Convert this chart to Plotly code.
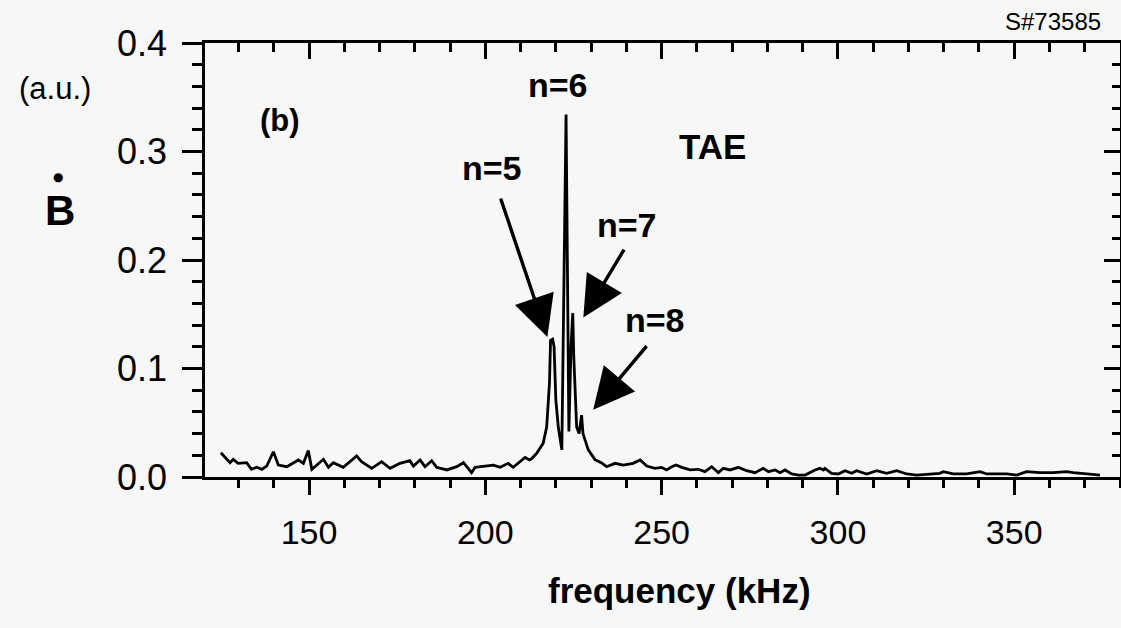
import plotly.graph_objects as go

# ---- data ----
freq_khz = [
    125.0, 126.7, 127.6, 128.5, 129.9, 132.3, 133.7, 135.2, 136.6, 138.0,
    139.9, 141.3, 143.7, 147.0, 148.4, 149.8, 150.8, 154.1, 155.5, 156.9,
    159.7, 163.5, 164.9, 167.8, 170.6, 173.0, 175.8, 178.6, 179.6, 181.5,
    182.9, 184.8, 186.2, 189.1, 191.9, 193.8, 196.1, 197.1, 200.4, 202.3,
    204.2, 206.5, 207.9, 211.3, 212.5,
    213.2, 214.6, 216.4, 217.4, 218.2, 218.5, 219.1, 219.5, 220.0, 220.7,
    221.7, 222.9, 223.7, 224.3, 224.8, 225.1, 225.4, 225.9, 226.6, 227.3,
    227.7, 229.2, 231.1, 233.0, 234.4, 236.8, 239.1, 241.9,
    243.9, 245.8, 248.1, 250.0, 251.4, 252.9, 254.1, 255.7, 258.1, 260.4,
    262.3, 264.2, 266.1, 267.5, 269.4, 271.8, 274.1, 276.5, 278.8, 280.3,
    282.2, 283.6, 285.0, 286.9, 288.8, 290.7, 293.5, 294.9, 295.9, 296.3,
    298.2, 300.1, 302.0, 303.9, 305.3, 308.2, 311.0, 313.8, 316.7, 319.5,
    322.3, 326.1, 328.9, 329.9, 332.7, 336.5, 340.3, 342.2, 347.9, 350.7,
    353.5, 357.3, 361.1, 364.9, 366.7, 370.6, 374.3,
]
bdot_amp = [
    0.0224, 0.0157, 0.0132, 0.0163, 0.0126, 0.0132, 0.0071, 0.0090, 0.0071, 0.0101,
    0.0233, 0.0110, 0.0095, 0.0157, 0.0126, 0.0243, 0.0071, 0.0163, 0.0090, 0.0132,
    0.0090, 0.0194, 0.0141, 0.0080, 0.0141, 0.0080, 0.0126, 0.0150, 0.0101, 0.0157,
    0.0095, 0.0150, 0.0090, 0.0065, 0.0095, 0.0132, 0.0040, 0.0090, 0.0101, 0.0110,
    0.0090, 0.0126, 0.0090, 0.0180, 0.0157,
    0.0170, 0.0220, 0.0310, 0.0460, 0.0870, 0.1260, 0.1270, 0.1200, 0.0710, 0.0460,
    0.0250, 0.3340, 0.0420, 0.1200, 0.1510, 0.1100, 0.0870, 0.0460, 0.0400, 0.0570,
    0.0400, 0.0250, 0.0160, 0.0130, 0.0095, 0.0126, 0.0110, 0.0126,
    0.0157, 0.0101, 0.0080, 0.0089, 0.0065, 0.0095, 0.0111, 0.0089, 0.0065, 0.0071,
    0.0049, 0.0095, 0.0040, 0.0080, 0.0065, 0.0089, 0.0058, 0.0040, 0.0080, 0.0049,
    0.0065, 0.0040, 0.0065, 0.0028, 0.0018, 0.0018, 0.0065, 0.0080, 0.0065, 0.0080,
    0.0034, 0.0028, 0.0058, 0.0034, 0.0058, 0.0028, 0.0058, 0.0034, 0.0058, 0.0028,
    0.0018, 0.0028, 0.0034, 0.0049, 0.0028, 0.0028, 0.0049, 0.0028, 0.0028, 0.0018,
    0.0049, 0.0040, 0.0040, 0.0049, 0.0040, 0.0028, 0.0018,
]

x_range = [120.5, 380]
y_range = [0, 0.4]
x_tick_step = 50
x_minor_step = 10
y_tick_step = 0.1
y_minor_step = 0.02

mode_labels = ["n=5", "n=6", "n=7", "n=8"]
mode_label_pos = [(201.8, 0.285), (220.7, 0.361), (240.3, 0.232), (248.2, 0.145)]
# arrows: (tip_x, tip_y, tail_x, tail_y)
mode_arrows = [
    (217.6, 0.129, 204.2, 0.258),
    (227.8, 0.147, 239.6, 0.211),
    (230.6, 0.062, 246.1, 0.122),
]

FONT = "Liberation Sans, Arial, Helvetica, sans-serif"
BG = "#f7f7f7"
INK = "black"

fig = go.Figure()
fig.add_trace(go.Scatter(
    x=freq_khz, y=bdot_amp, mode="lines",
    line=dict(color=INK, width=2.8), showlegend=False, hoverinfo="skip",
))
# invisible trace to anchor mirrored axes (top/right, inward ticks)
fig.add_trace(go.Scatter(x=[None], y=[None], xaxis="x2", yaxis="y2",
                         showlegend=False, hoverinfo="skip"))

annotations = []
for txt, (ax_, ay_) in zip(mode_labels, mode_label_pos):
    annotations.append(dict(x=ax_, y=ay_, xref="x", yref="y", text=f"<b>{txt}</b>",
                            xanchor="center", yanchor="middle",
                            showarrow=False, font=dict(family=FONT, size=34, color=INK)))
for tx, ty, sx, sy in mode_arrows:
    annotations.append(dict(x=tx, y=ty, ax=sx, ay=sy, xref="x", yref="y",
                            axref="x", ayref="y", text="", showarrow=True,
                            arrowhead=2, arrowsize=2.4, arrowwidth=3.4,
                            arrowcolor=INK, standoff=0))
annotations += [
    dict(x=264.3, y=0.305, xref="x", yref="y", text="<b>TAE</b>", showarrow=False,
         xanchor="center", yanchor="middle",
         font=dict(family=FONT, size=35, color=INK)),
    dict(x=141.8, y=0.329, xref="x", yref="y", text="<b>(b)</b>", showarrow=False,
         xanchor="center", yanchor="middle",
         font=dict(family=FONT, size=31, color=INK)),
    dict(x=-0.164, y=0.896, xref="paper", yref="paper", text="(a.u.)", showarrow=False,
         xanchor="center", yanchor="middle",
         font=dict(family=FONT, size=31, color=INK)),
    dict(x=-0.158, y=0.613, xref="paper", yref="paper", text="<b>B</b>", showarrow=False,
         xanchor="center", yanchor="middle",
         font=dict(family=FONT, size=42, color=INK)),
    dict(x=-0.161, y=0.692, xref="paper", yref="paper", text="●", showarrow=False,
         xanchor="center", yanchor="middle",
         font=dict(family="DejaVu Sans", size=12, color=INK)),
    dict(x=0.981, y=1.049, xref="paper", yref="paper", text="S#73585", showarrow=False,
         xanchor="right", yanchor="middle", font=dict(family=FONT, size=24, color=INK)),
    dict(x=0.519, y=-0.262, xref="paper", yref="paper", text="<b>frequency (kHz)</b>",
         xanchor="center", showarrow=False, yanchor="middle",
         font=dict(family=FONT, size=35, color=INK)),
]

axis_common = dict(showgrid=False, zeroline=False, showline=True, linecolor=INK,
                   linewidth=2.5, tickcolor=INK, tickwidth=2.5)

fig.update_layout(
    width=1121, height=628, autosize=False,
    margin=dict(l=205, r=1, t=43, b=151),
    paper_bgcolor=BG, plot_bgcolor=BG,
    font=dict(family=FONT, color=INK),
    xaxis=dict(range=x_range, tick0=0, dtick=x_tick_step, ticks="outside", ticklen=15,
               tickfont=dict(size=34), ticklabelstandoff=8,
               minor=dict(dtick=x_minor_step, tick0=0, ticks="outside", ticklen=8,
                          tickcolor=INK, tickwidth=2.5),
               **axis_common),
    yaxis=dict(range=y_range, tick0=0, dtick=y_tick_step, ticks="outside", ticklen=20,
               tickformat=".1f", tickfont=dict(size=36), ticklabelstandoff=8,
               minor=dict(dtick=y_minor_step, tick0=0, ticks="outside", ticklen=10,
                          tickcolor=INK, tickwidth=2.5),
               **axis_common),
    xaxis2=dict(range=x_range, overlaying="x", side="top", anchor="y", tick0=0,
                dtick=x_tick_step, ticks="inside", ticklen=16, showticklabels=False,
                minor=dict(dtick=x_minor_step, tick0=0, ticks="inside", ticklen=9,
                           tickcolor=INK, tickwidth=2.5),
                **axis_common),
    yaxis2=dict(range=y_range, overlaying="y", side="right", anchor="x", tick0=0,
                dtick=y_tick_step, ticks="inside", ticklen=16, showticklabels=False,
                minor=dict(dtick=y_minor_step, tick0=0, ticks="inside", ticklen=8,
                           tickcolor=INK, tickwidth=2.5),
                **axis_common),
    annotations=annotations,
)

fig.write_html("out.html")
